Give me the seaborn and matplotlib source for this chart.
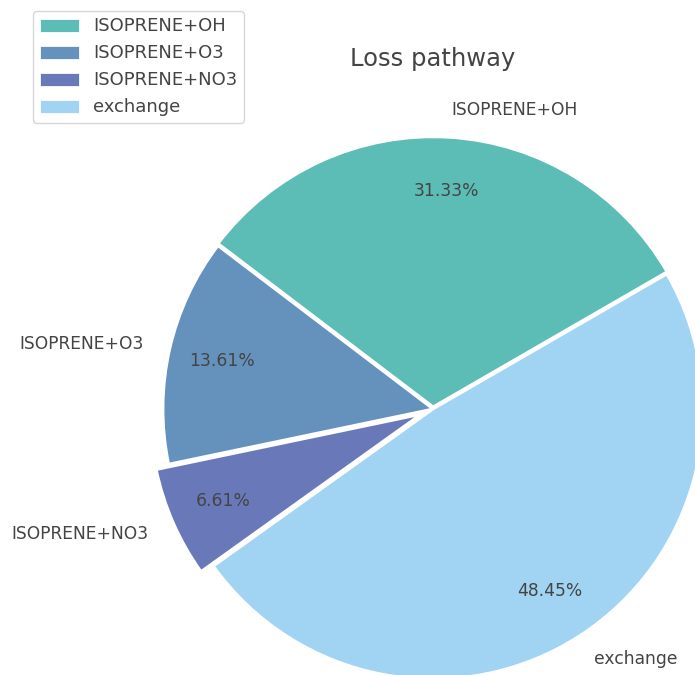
import matplotlib
matplotlib.use('Agg')
import matplotlib.pyplot as plt
import seaborn as sns

# ==================== 数据 ====================
pathways = ['ISOPRENE+OH', 'ISOPRENE+O3', 'ISOPRENE+NO3', 'exchange']
shares = [31.33, 13.61, 6.61, 48.45]
explode = [0.008, 0, 0.05, 0]
colors = ['#5cbcb6', '#6592bc', '#6978b9', '#a0d4f2']

sns.set_theme(style='white')
plt.rcParams['font.family'] = ['DejaVu Sans']
text_color = '#444444'

fig = plt.figure(figsize=(6.95, 6.75), dpi=100)
# 饼图中心约在 (433, 409) 像素处, 半径约 270 像素
R = 270
cx, cy = 433, 409
w = 2.5 * R
ax = fig.add_axes([(cx - w / 2) / 695, (675 - cy - w / 2) / 675, w / 695, w / 675])

wedges, texts, autotexts = ax.pie(
    shares, labels=pathways, colors=sns.color_palette(colors),
    explode=explode, startangle=30, autopct='%.2f%%',
    pctdistance=0.8, labeldistance=1.1,
    wedgeprops=dict(edgecolor='white', linewidth=2),
    textprops=dict(color=text_color, fontsize=12.3),
)
ax.set_xlim(-1.25, 1.25)
ax.set_ylim(-1.25, 1.25)
ax.set_aspect('equal')

ax.set_title('Loss pathway', fontsize=17.5, color=text_color, pad=4)

leg = ax.legend(wedges, pathways, loc='upper left',
                bbox_to_anchor=(33 / 695, 1 - 11 / 675),
                bbox_transform=fig.transFigure, borderaxespad=0,
                borderpad=0.35, handleheight=0.9, handlelength=2.25,
                handletextpad=0.75, fontsize=13, frameon=True)
for t in leg.get_texts():
    t.set_color(text_color)

fig.savefig('out.png', dpi=100)
